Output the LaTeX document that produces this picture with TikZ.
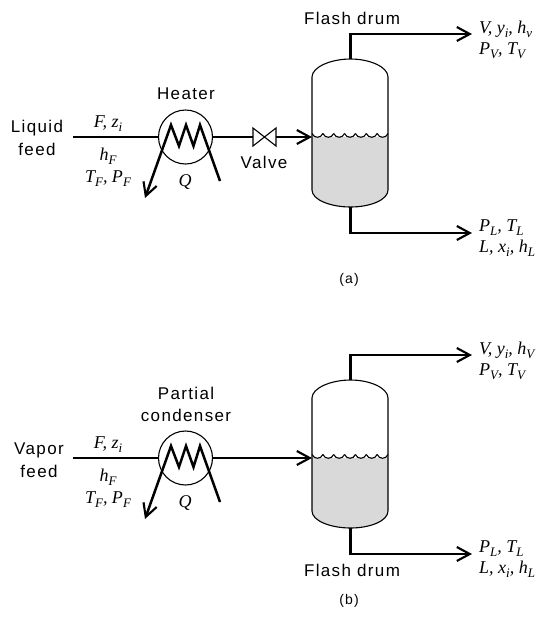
\documentclass[tikz,border=0pt]{standalone}
\usepackage{fontspec}
\usepackage{tikz}
\usetikzlibrary{arrows.meta}
\setmainfont{Liberation Serif}
\newfontfamily\labelfont[LetterSpace=8]{Liberation Sans}
\newcommand{\low}[1]{\raisebox{-4pt}{\fontsize{13}{13}\selectfont #1}}
\tikzset{
	heavy/.style={line width=2.5pt},
	flow/.style={heavy,-{Straight Barb[length=13pt,width=14pt,line width=2.1pt]}},
	thin line/.style={line width=1.1pt},
	tag/.style={inner sep=0pt,font=\fontsize{17}{17}\selectfont\labelfont,align=center},
	sym/.style={inner sep=0pt,anchor=base,font=\fontsize{18}{18}\selectfont\itshape},
	symleft/.style={sym,anchor=base west}
}
\begin{document}
\begin{tikzpicture}[x=1pt,y=-1pt]
		\useasboundingbox (0,0) rectangle (544,622);

		\foreach \p/\dy/\hv in {a/0/v,b/321/V}{
			%Liquid in drum
			\fill [gray!30] (312,137+\dy) -- (388,137+\dy) -- (388,190+\dy) .. controls (388,200+\dy) and (370,207+\dy) .. (350.5,207+\dy) .. controls (331,207+\dy) and (312,200+\dy) .. (312,190+\dy) -- cycle;
			\foreach \k in {0,...,6}{
				\draw [thin line] (312+\k*10.86,133.5+\dy) .. controls (314+\k*10.86,138.5+\dy) and (320.9+\k*10.86,138.5+\dy) .. (322.86+\k*10.86,133.5+\dy);
			}

			%Drum
			\draw [thin line] (312,190+\dy) -- (312,77+\dy) .. controls (312,67+\dy) and (331,59+\dy) .. (350.5,59+\dy) .. controls (370,59+\dy) and (388,67+\dy) .. (388,77+\dy) -- (388,190+\dy) .. controls (388,200+\dy) and (370,207+\dy) .. (350.5,207+\dy) .. controls (331,207+\dy) and (312,200+\dy) .. (312,190+\dy);
			\coordinate (top\p) at (350.5,59+\dy);
			\coordinate (bottom\p) at (350.5,207+\dy);
			\coordinate (inlet\p) at (312,137+\dy);
			\coordinate (source\p) at (73,137+\dy);
			\coordinate (vapor\p) at (472,34+\dy);
			\coordinate (liquid\p) at (472,233+\dy);

			%Heat exchanger
			\node [circle,draw,thin line,minimum size=54pt,inner sep=0pt] (heater\p) at (185.5,137+\dy) {};
			\draw [flow] (220,181+\dy) -- (200,125+\dy) -- (193.5,146+\dy) -- (186,125+\dy) -- (179,146+\dy) -- (171,125+\dy) -- (145,198+\dy);
			\draw [heavy] (source\p) -- (heater\p.west);

			%Outlets
			\draw [flow] (top\p) |- (vapor\p);
			\draw [flow] (bottom\p) |- (liquid\p);

			%Stream labels
			\node [sym] (feed\p) at (108,127+\dy) {F, z\low{i}};
			\node [sym] (enth\p) at (108,160+\dy) {h\low{F}};
			\node [sym] (cond\p) at (108,182+\dy) {T\low{F}, P\low{F}};
			\node [sym] (duty\p) at (185,186+\dy) {Q};
			\node [symleft] (vtop\p) at (479,33+\dy) {V, y\low{i}, h\low{\hv}};
			\node [symleft] (vbot\p) at (479,54+\dy) {P\low{V}, T\low{V}};
			\node [symleft] (ltop\p) at (479,231+\dy) {P\low{L}, T\low{L}};
			\node [symleft] (lbot\p) at (479,252+\dy) {L, x\low{i}, h\low{L}};
			\node [tag,font=\fontsize{14}{14}\selectfont\labelfont] (case\p) at (349,280+\dy) {(\p)};
		}

		%Valve
		\coordinate (valvein) at (253,137);
		\coordinate (valveout) at (276,137);
		\draw [thin line] (253,128) -- (276,146) -- (276,128) -- (253,146) -- cycle;
		\draw [heavy] (heatera.east) -- (valvein);
		\draw [flow] (valveout) -- (inleta);
		\draw [flow] (heaterb.east) -- (inletb);

		\node [tag] (name1) at (186,94) {Heater};
		\node [tag] (name2) at (264,162) {Valve};
		\node [tag] (name3) at (352,18) {Flash drum};
		\node [tag] (name4) at (37,128) {Liquid};
		\node [tag] (name5) at (37,149) {feed};
		\node [tag] (name6) at (186,393) {Partial};
		\node [tag] (name7) at (186,415) {condenser};
		\node [tag] (name8) at (39,450) {Vapor};
		\node [tag] (name9) at (39,471) {feed};
		\node [tag] (name10) at (352,570) {Flash drum};
	\end{tikzpicture}
\end{document}
